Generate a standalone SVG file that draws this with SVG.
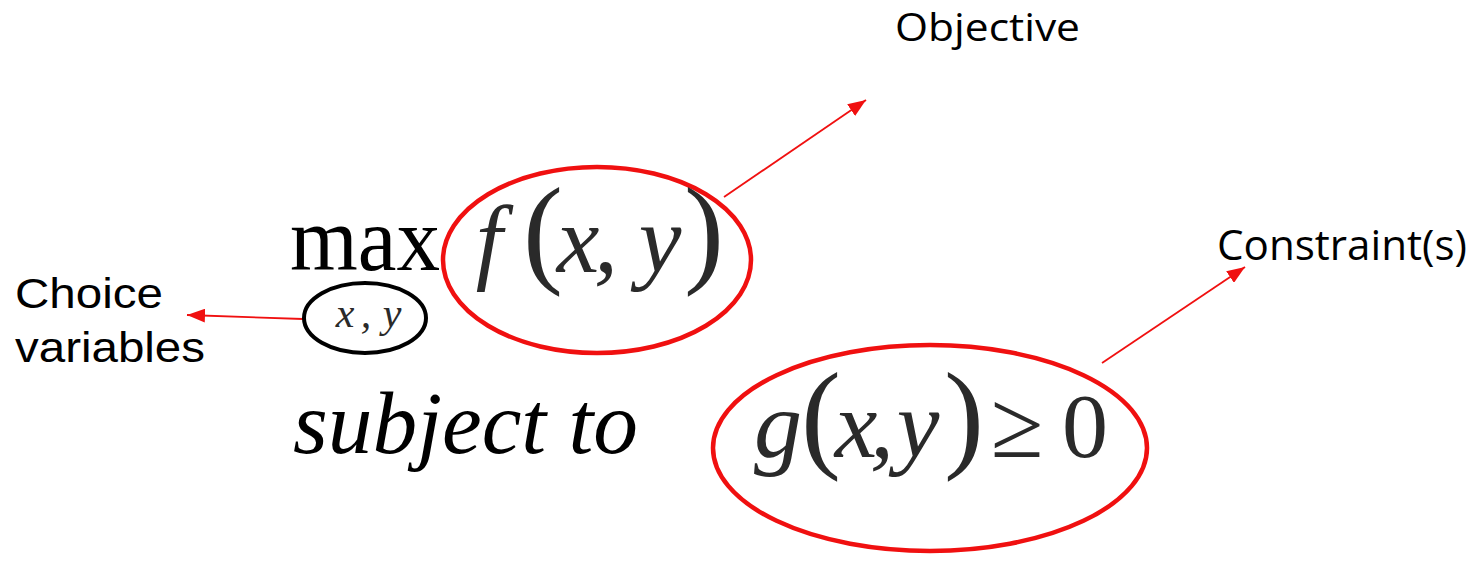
<svg xmlns="http://www.w3.org/2000/svg" width="1475" height="564" viewBox="0 0 1475 564">
<style>
.lbl{font-family:"Liberation Sans",Arial,sans-serif;fill:#000}
.lblc{font-family:"Open Sans","Liberation Sans",sans-serif;fill:#000}
.rm{font-family:"Liberation Serif","Times New Roman",serif;fill:#000}
.math{font-family:"Liberation Serif","Times New Roman",serif;fill:#2a2a2a;text-anchor:middle}
.i{font-style:italic}
.red{fill:none;stroke:#f01010;stroke-width:4.5}
.conn{stroke:#f01010;stroke-width:1.8;fill:none}
</style>
<defs>
<marker id="ah2" viewBox="0 0 10 10" refX="10" refY="5" markerWidth="18" markerHeight="14" markerUnits="userSpaceOnUse" orient="auto" preserveAspectRatio="none">
<path d="M0,0 L10,5 L0,10 z" fill="#f01010"/>
</marker>
</defs>
<rect width="1475" height="564" fill="#fff"/>

<g id="connectors">
<line class="conn" x1="724" y1="197" x2="866" y2="100" marker-end="url(#ah2)"/>
<line class="conn" x1="1102" y1="363" x2="1245" y2="267" marker-end="url(#ah2)"/>
<line class="conn" x1="303" y1="319" x2="187" y2="315" marker-end="url(#ah2)"/>
</g>

<g id="objective-label">
<text class="lblc" x="895" y="41" font-size="38" textLength="185" lengthAdjust="spacingAndGlyphs">Objective</text>
</g>

<g id="constraint-label">
<text class="lblc" x="1217" y="260" font-size="42" textLength="250" lengthAdjust="spacingAndGlyphs">Constraint(s)</text>
</g>

<g id="choice-label">
<text class="lbl" x="15" y="308" font-size="43" textLength="148" lengthAdjust="spacingAndGlyphs">Choice</text>
<text class="lbl" x="15" y="362" font-size="43" textLength="190" lengthAdjust="spacingAndGlyphs">variables</text>
</g>

<g id="max">
<text class="rm" x="290" y="270" font-size="92" textLength="150" lengthAdjust="spacingAndGlyphs">max</text>
</g>

<g id="choice-vars">
<ellipse cx="365" cy="318" rx="61" ry="35" fill="none" stroke="#000" stroke-width="4"/>
<text class="math i" y="327" font-size="42"><tspan x="345">x</tspan><tspan x="366">,</tspan><tspan x="392">y</tspan></text>
</g>

<g id="objective">
<ellipse class="red" cx="597" cy="260" rx="154" ry="93"/>
<text class="math" y="272" font-size="96"><tspan class="i" x="489">f</tspan><tspan x="543" y="271" font-size="120">(</tspan><tspan class="i" x="578" y="272">x</tspan><tspan class="i" x="606">,</tspan><tspan class="i" x="660">y</tspan><tspan x="704" y="271" font-size="120">)</tspan></text>
</g>

<g id="subject-to">
<text class="rm i" x="293" y="453" font-size="88" textLength="345" lengthAdjust="spacingAndGlyphs">subject to</text>
</g>

<g id="constraint">
<ellipse class="red" cx="930" cy="448" rx="217" ry="103"/>
<text class="math" y="457" font-size="96"><tspan class="i" x="778">g</tspan><tspan x="821" y="456" font-size="120">(</tspan><tspan class="i" x="856" y="457">x</tspan><tspan class="i" x="882">,</tspan><tspan class="i" x="918">y</tspan><tspan x="964" y="456" font-size="120">)</tspan><tspan x="1017" y="457">≥</tspan><tspan x="1085" font-size="92">0</tspan></text>
</g>
</svg>
